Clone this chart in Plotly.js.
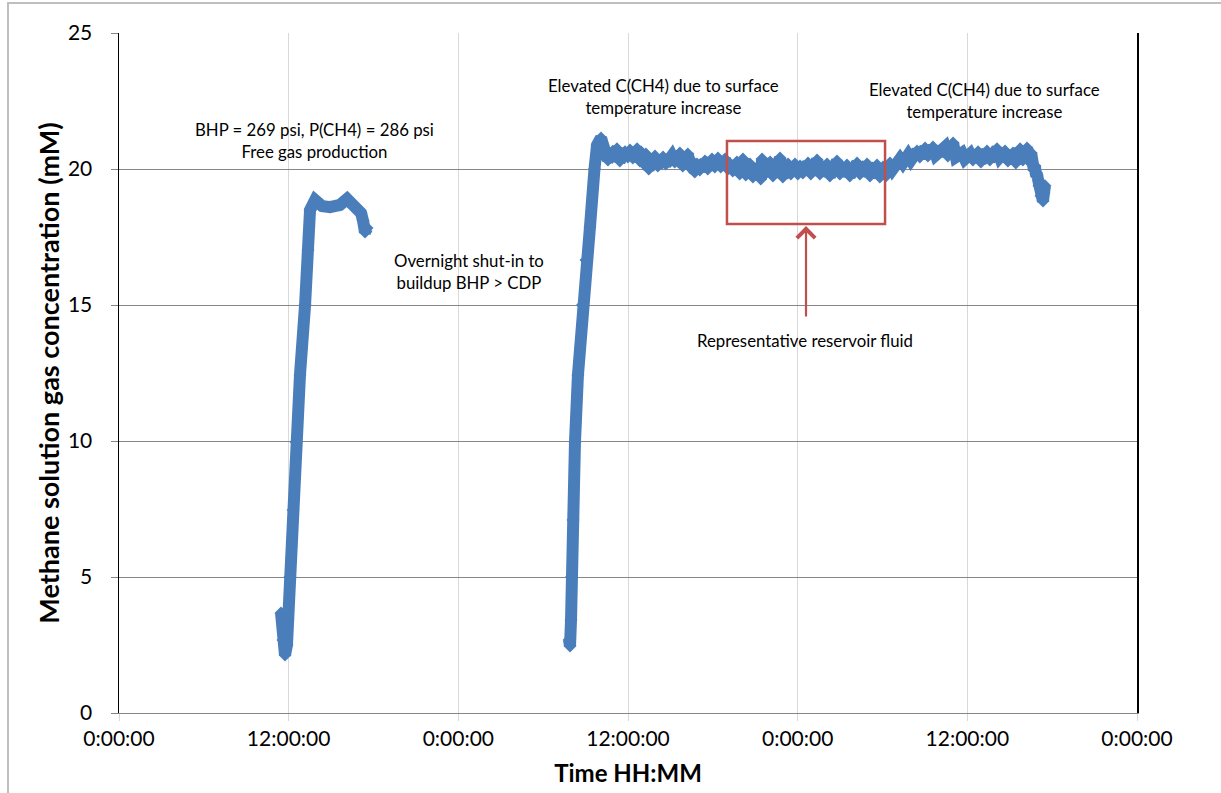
<!DOCTYPE html>
<html>
<head>
<meta charset="utf-8">
<script src="https://cdn.plot.ly/plotly-3.0.1.min.js"></script>
<style>
  html, body { margin: 0; padding: 0; background: #fff; }
  #wrap { position: relative; width: 1221px; height: 793px; overflow: hidden; }
  #chart { position: absolute; left: 0; top: 0; width: 1221px; height: 793px; }
  #frame { position: absolute; left: 7px; top: 2px; width: 1300px; height: 900px;
           border-top: 2px solid #bfbfbf; border-left: 2px solid #bfbfbf; pointer-events: none; }
</style>
</head>
<body>
<div id="wrap">
  <div id="chart"></div>
  <div id="frame"></div>
</div>
<script>
// Elapsed time in hours from the first 0:00:00 tick, concentration in mM
const day1Time  = [11.46, 11.60, 11.74, 11.88, 11.95, 12.09, 12.31, 12.52, 12.80, 13.16, 13.37, 13.51,
                   13.87, 14.36, 14.92, 15.63, 16.13, 16.69, 17.12, 17.26, 17.40, 17.54];
const day1Value = [3.68, 2.68, 2.13, 2.50, 3.42, 5.00, 7.46, 9.96, 12.43, 15.00, 17.02, 18.49,
                   18.86, 18.64, 18.60, 18.68, 18.90, 18.60, 18.38, 18.10, 17.68, 17.83];

const day2Time  = [31.83, 31.90, 31.97, 32.00, 32.11, 32.25, 32.46, 32.78, 33.03, 33.31, 33.63, 33.81,
                   34.09, 34.37, 34.58,
                   35.22, 35.42, 35.79, 35.99, 36.14, 36.34, 36.64, 36.84, 36.92, 37.12, 37.27, 37.47,
                   37.91, 38.11, 38.48, 38.68, 39.10, 39.30, 39.67, 39.87, 40.23, 40.43, 40.52, 40.72,
                   40.88, 41.08, 41.44, 41.64, 41.94, 42.14, 42.36, 42.56, 42.86, 43.06, 43.21, 43.41,
                   43.70, 43.90, 44.13, 44.33, 44.63, 44.83, 45.19, 45.39, 45.48, 45.68, 46.05, 46.25,
                   46.75, 46.95, 47.32, 47.52, 47.81, 48.01, 48.17, 48.37, 48.73, 48.93, 49.37, 49.57,
                   50.08, 50.28, 50.78, 50.98, 51.49, 51.69, 52.20, 52.40, 52.91, 53.11, 53.61, 53.81,
                   54.04, 54.24, 54.53, 54.73, 55.24, 55.44, 55.81, 56.01, 56.44, 56.64, 57.01, 57.21,
                   57.57, 57.77, 58.42, 58.62, 58.99, 59.19, 59.62, 59.82, 60.19, 60.39, 60.76, 60.96,
                   61.39, 61.59, 62.10, 62.30, 62.67, 62.87, 63.23, 63.43, 63.73, 63.93, 64.22, 64.42,
                   64.51, 64.71, 64.78, 64.85,
                   64.93, 65.07, 65.21, 65.35, 65.42, 65.49];
const day2Value = [2.68, 2.46, 3.42, 5.00, 7.10, 9.96, 12.43, 15.00, 16.65, 17.87, 20.00, 20.88,
                   21.14, 20.70, 20.33,
                   20.74, 20.29, 20.63, 20.44, 20.70, 20.40, 20.74, 20.29, 20.63, 20.18, 20.55, 20.00,
                   20.48, 20.11, 20.44, 20.18, 20.48, 20.26, 20.59, 20.11, 20.55, 20.04, 20.29, 19.89,
                   20.18, 19.96, 20.29, 20.00, 20.37, 20.07, 20.40, 20.07, 20.37, 20.00, 20.18, 19.93,
                   20.26, 19.82, 20.37, 19.78, 20.18, 19.71, 20.04, 19.63, 20.37, 19.82, 20.26, 19.74,
                   20.40, 19.71, 20.18, 19.82, 20.18, 19.82, 20.11, 19.85, 20.22, 19.82, 20.33, 19.82,
                   20.18, 19.74, 20.29, 19.82, 20.15, 19.74, 20.22, 19.82, 20.18, 19.74, 20.15, 19.71,
                   20.07, 19.74, 20.22, 20.00, 20.37, 20.22, 20.51, 20.33, 20.66, 20.44, 20.77, 20.48,
                   20.81, 20.51, 20.81, 20.48, 20.96, 20.44, 20.59, 20.37, 20.55, 20.33, 20.63, 20.26,
                   20.66, 20.33, 20.74, 20.44, 20.66, 20.29, 20.59, 20.22, 20.74, 20.33, 20.77, 20.26,
                   20.59, 19.96, 20.11, 19.82,
                   19.78, 19.38, 19.01, 18.82, 19.12, 19.38];

const tickHours  = [0, 12, 24, 36, 48, 60, 72];
const tickLabels = ['0:00:00', '12:00:00', '0:00:00', '12:00:00', '0:00:00', '12:00:00', '0:00:00'];

const notes = [
  {text: 'BHP = 269 psi, P(CH4) = 286 psi<br>Free gas production', x: 13.86, y: 21.03},
  {text: 'Overnight shut-in to<br>buildup BHP > CDP', x: 24.75, y: 16.25},
  {text: 'Elevated C(CH4) due to surface<br>temperature increase', x: 38.48, y: 22.67},
  {text: 'Elevated C(CH4) due to surface<br>temperature increase', x: 61.18, y: 22.52},
  {text: 'Representative reservoir fluid', x: 48.52, y: 13.71}
];
const box = {t0: 43.0, t1: 54.18, v0: 17.98, v1: 21.03};
const arrow = {t: 48.59, tail: 14.52, head: 17.9};

const FONT = 'Lato, "Open Sans", sans-serif';
const BLUE = '#4a7ebb';
const RED = '#c0504d';

const xs = day1Time.concat([null], day2Time);
const ys = day1Value.concat([null], day2Value);

const trace = {
  x: xs, y: ys, type: 'scatter', mode: 'lines+markers',
  connectgaps: false,
  line: {color: BLUE, width: 12},
  marker: {symbol: 'diamond', size: 10, color: BLUE},
  hoverinfo: 'skip', showlegend: false
};

const annotations = notes.map(n => ({
  text: n.text, x: n.x, y: n.y, xref: 'x', yref: 'y', showarrow: false,
  xanchor: 'center', yanchor: 'middle', align: 'center',
  font: {family: FONT, size: 16.8, color: '#000'}
}));
annotations.push({
  x: arrow.t, y: arrow.head, ax: arrow.t, ay: arrow.tail,
  xref: 'x', yref: 'y', axref: 'x', ayref: 'y', text: '',
  showarrow: true, arrowhead: 4, arrowsize: 1.6, arrowwidth: 2.2, arrowcolor: RED, standoff: 0
});

const layout = {
  width: 1221, height: 793,
  margin: {l: 119, r: 84, t: 33, b: 80},
  paper_bgcolor: 'rgba(0,0,0,0)', plot_bgcolor: '#fff',
  font: {family: FONT, color: '#000'},
  showlegend: false,
  xaxis: {
    range: [0, 72], tickmode: 'array', tickvals: tickHours, ticktext: tickLabels,
    showgrid: true, gridcolor: '#d9d9d9', gridwidth: 1,
    showline: true, linecolor: '#868686', linewidth: 1,
    ticks: 'outside', ticklen: 7, tickcolor: '#d9d9d9',
    tickfont: {family: FONT, size: 21, color: '#000'},
    zeroline: false,
    title: {text: 'Time HH:MM', font: {family: FONT, size: 24, color: '#000', weight: 'bold'}, standoff: 15}
  },
  yaxis: {
    range: [0, 25], tickmode: 'array', tickvals: [0, 5, 10, 15, 20, 25],
    showgrid: true, gridcolor: '#868686', gridwidth: 1,
    showline: true, linecolor: '#000', linewidth: 1.5, mirror: true,
    ticks: 'outside', ticklen: 7, tickcolor: '#868686',
    tickfont: {family: FONT, size: 21, color: '#000'},
    ticklabelstandoff: 14,
    zeroline: false,
    title: {text: 'Methane solution gas concentration (mM)', font: {family: FONT, size: 27, color: '#000', weight: 'bold'}, standoff: 0}
  },
  shapes: [
    {type: 'rect', xref: 'x', yref: 'y', x0: box.t0, x1: box.t1, y0: box.v0, y1: box.v1,
     line: {color: RED, width: 2.5}, fillcolor: 'rgba(0,0,0,0)'}
  ],
  annotations: annotations
};

Plotly.newPlot('chart', [trace], layout, {displayModeBar: false, staticPlot: true});
</script>
</body>
</html>
